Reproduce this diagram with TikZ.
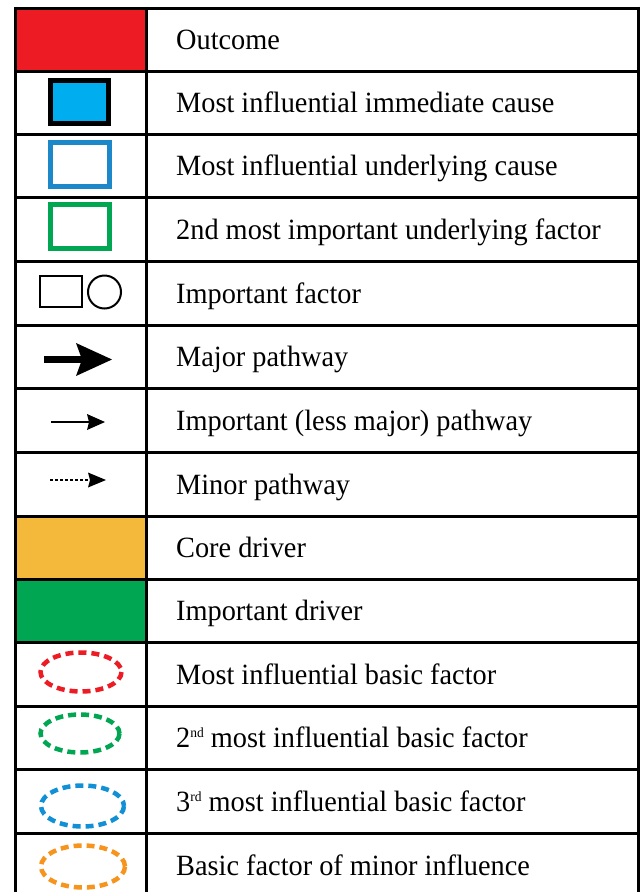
\documentclass[tikz,border=0pt]{standalone}
\usepackage{fontspec}
\setmainfont[FakeStretch=0.963]{Liberation Serif}
\definecolor{cred}{HTML}{ED1C24}
\definecolor{cbluefill}{HTML}{00AEEF}
\definecolor{cblueline}{HTML}{1C87C9}
\definecolor{cgreen}{HTML}{00A651}
\definecolor{corange}{HTML}{F4B83B}
\definecolor{cbluedash}{HTML}{1290D6}
\definecolor{corangedash}{HTML}{F7941D}
\tikzset{
  grid/.style={line width=3pt, black},
  lbl/.style={anchor=base west, inner sep=0pt, font=\fontsize{29.4}{34}\selectfont},
  boxicon/.style={line width=5pt},
  dashell/.style={line width=4.5pt, dash pattern=on 8pt off 5pt},
}
\newcommand{\supx}[1]{\raisebox{10pt}{\fontsize{14}{14}\selectfont #1}}
\begin{document}
\begin{tikzpicture}[x=1pt,y=-1pt]
\useasboundingbox (0,0) rectangle (640,892);
\fill[white] (0,0) rectangle (640,892);
% coloured cells
\fill[cred] (15,8) rectangle (146,71);
\fill[corange] (15,516) rectangle (146,579);
\fill[cgreen] (15,579) rectangle (146,642);
% grid
\foreach \yy in {8,71,134,197,261,325,388,452,516,579,642,706,769,833}
  \draw[grid] (15,\yy) -- (638,\yy);
\draw[grid] (15,6.5) -- (15,895);
\draw[grid] (146,6.5) -- (146,895);
\draw[grid] (638,6.5) -- (638,895);
% labels
\node[lbl] (t1) at (176,49.5) {Outcome};
\node[lbl] (t2) at (176,112.5) {Most influential immediate cause};
\node[lbl] (t3) at (176,175.5) {Most influential underlying cause};
\node[lbl] (t4) at (176,239) {2nd most important underlying factor};
\node[lbl] (t5) at (176,303) {Important factor};
\node[lbl] (t6) at (176,366.5) {Major pathway};
\node[lbl] (t7) at (176,430) {Important (less major) pathway};
\node[lbl] (t8) at (176,494) {Minor pathway};
\node[lbl] (t9) at (176,557.5) {Core driver};
\node[lbl] (t10) at (176,620.5) {Important driver};
\node[lbl] (t11) at (176,684) {Most influential basic factor};
\node[lbl] (t12) at (176,747.5) {2\supx{nd} most influential basic factor};
\node[lbl] (t13) at (176,811) {3\supx{rd} most influential basic factor};
\node[lbl] (t14) at (176,875) {Basic factor of minor influence};
% icons
\draw[boxicon, black, fill=cbluefill] (50.5,80.5) rectangle (108.5,123.5);
\draw[boxicon, cblueline] (50.5,142.5) rectangle (109.5,186.5);
\draw[boxicon, cgreen] (50.5,204.5) rectangle (109.5,248.5);
\draw[line width=2pt] (40,276) rectangle (82,307);
\draw[line width=2pt] (104.5,292) circle (16.5);
% major pathway
\draw[line width=7pt] (44,359.5) -- (82,359.5);
\fill (112,359.5) -- (76,343) -- (82,359.5) -- (76,376) -- cycle;
% important pathway
\draw[line width=2.5pt] (51,422) -- (90,422);
\fill (105,422) -- (87,414) -- (89,422) -- (87,430) -- cycle;
% minor pathway
\draw[line width=2.5pt, dash pattern=on 3pt off 2pt] (50,480) -- (90,480);
\fill (106,480) -- (88,472.5) -- (90,480) -- (88,487.5) -- cycle;
% ellipses
\draw[dashell, cred] (81,672) ellipse (40.5 and 19.5);
\draw[dashell, cgreen] (80,733.5) ellipse (39.5 and 19);
\draw[dashell, cbluedash] (82.5,806) ellipse (41.5 and 20.5);
\draw[dashell, corangedash] (83,866.5) ellipse (42 and 21);
\end{tikzpicture}
\end{document}
